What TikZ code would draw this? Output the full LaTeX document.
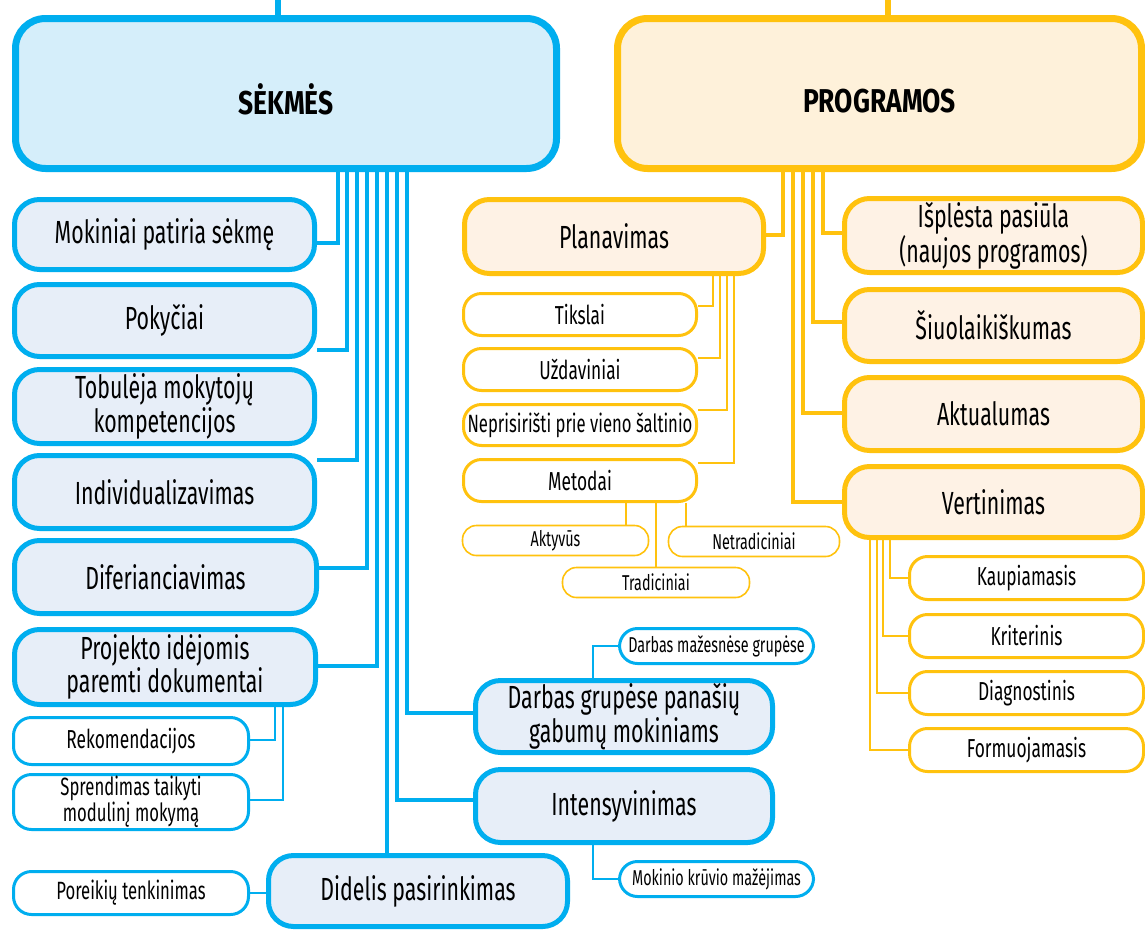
\documentclass[tikz,border=0pt]{standalone}
\usepackage{fontspec}
\setmainfont{Fira Sans}[FakeStretch=0.667]
\newfontfamily\tfont{Fira Sans}[FakeStretch=0.8]
\usetikzlibrary{backgrounds}
\definecolor{cblue}{HTML}{00AEEF}
\definecolor{sekfill}{HTML}{D5EEFA}
\definecolor{bfill}{HTML}{E7EEF8}
\definecolor{cyel}{HTML}{FFC20E}
\definecolor{progfill}{HTML}{FEF1DA}
\definecolor{yfill}{HTML}{FEF2E5}
\newcommand\ftitle{\tfont\fontsize{33}{35}\selectfont\bfseries}
\newcommand\fmid{\fontsize{32}{28.5}\selectfont}
\newcommand\fsub{\fontsize{26}{25}\selectfont}
\newcommand\fsubs{\fontsize{25}{23}\selectfont}
\newcommand\fsmall{\fontsize{21.5}{21}\selectfont}
\begin{document}
\begin{tikzpicture}[x=1pt,y=-1pt,
  tA/.style={line width=7pt, rounded corners=30pt, inner sep=0pt, align=center},
  bB/.style={draw=cblue, fill=bfill, line width=5pt, rounded corners=25pt, inner sep=0pt, align=center, font=\fmid, minimum width=300pt},
  bC/.style={draw=cblue, fill=white, line width=3pt, rounded corners=18pt, inner sep=0pt, align=center, font=\fsub},
  yB/.style={draw=cyel, fill=yfill, line width=5pt, rounded corners=25pt, inner sep=0pt, align=center, font=\fmid},
  yC/.style={draw=cyel, fill=white, line width=3pt, rounded corners=18pt, inner sep=0pt, align=center, font=\fsub},
  yD/.style={draw=cyel, fill=white, line width=1.6pt, rounded corners=14pt, inner sep=0pt, align=center, font=\fsmall},
  btrunk/.style={draw=cblue, line width=4pt},
  bthin/.style={draw=cblue, line width=2.8pt},
  ytrunk/.style={draw=cyel, line width=4.5pt},
  ythin/.style={draw=cyel, line width=2.6pt},
  yhair/.style={draw=cyel, line width=1.5pt}
]
\useasboundingbox (0,0) rectangle (1145,929);
\begin{pgfonlayer}{background}
\fill[white] (0,0) rectangle (1145,929);
\end{pgfonlayer}

% titles
\node[tA, draw=cblue, fill=sekfill, minimum width=541pt, minimum height=150pt,
  label={[font=\ftitle, yshift=-6pt]center:SĖKMĖS}] (sek) at (286,93.5) {};
\node[tA, draw=cyel, fill=progfill, minimum width=524pt, minimum height=150pt,
  label={[font=\ftitle, yshift=-8pt]center:PROGRAMOS}] (prog) at (879.5,93.5) {};

% left column
\node[bB, minimum height=70pt] (mok) at (164.5,234.5) {Mokiniai patiria sėkmę};
\node[bB, minimum height=72pt] (pok) at (164.5,320.5) {Pokyčiai};
\node[bB, minimum height=74pt] (tob) at (164.5,406.5) {Tobulėja mokytojų\\kompetencijos};
\node[bB, minimum height=73pt] (ind) at (164.5,492) {Individualizavimas};
\node[bB, minimum width=302pt, minimum height=73pt] (dif) at (165.5,577) {Diferianciavimas};
\node[bB, minimum width=301pt, minimum height=75pt] (proj) at (165,667) {Projekto idėjomis\\paremti dokumentai};
\node[bC, minimum width=235pt, minimum height=47pt] (rek) at (131,741) {Rekomendacijos};
\node[bC, minimum width=235pt, minimum height=55pt, font=\fsubs] (spr) at (131,802) {Sprendimas taikyti\\modulinį mokymą};
\node[bC, minimum width=235pt, minimum height=43pt, font=\fsubs] (por) at (131,893) {Poreikių tenkinimas};
\node[bB, minimum width=299pt, minimum height=71pt] (did) at (418,891) {Didelis pasirinkimas};
\node[bB, minimum width=297pt, minimum height=72pt] (dgr) at (624,716.5) {Darbas grupėse panašių\\gabumų mokiniams};
\node[bB, minimum width=297pt, minimum height=73pt] (int) at (624,806) {Intensyvinimas};
\node[bC, minimum width=194pt, minimum height=35pt, font=\fsmall] (dmz) at (716.5,646) {Darbas mažesnėse grupėse};
\node[bC, minimum width=194pt, minimum height=35pt, font=\fsmall] (mkr) at (716.5,879) {Mokinio krūvio mažėjimas};

% planavimas
\node[yB, minimum width=299pt, minimum height=74pt] (plan) at (614,236.5) {Planavimas};
\node[yC, minimum width=233pt, minimum height=42pt] (tik) at (580,314.5) {Tikslai};
\node[yC, minimum width=233pt, minimum height=42pt] (uzd) at (580,369.5) {Uždaviniai};
\node[yC, minimum width=233pt, minimum height=41pt, font=\fsubs] (nep) at (580,425) {Neprisirišti prie vieno šaltinio};
\node[yC, minimum width=233pt, minimum height=42pt] (met) at (580,480.5) {Metodai};
\node[yD, minimum width=186pt, minimum height=30pt] (akt) at (555.5,540.5) {Aktyvūs};
\node[yD, minimum width=171pt, minimum height=30pt] (net) at (754,541.5) {Netradiciniai};
\node[yD, minimum width=187pt, minimum height=30pt] (tra) at (656,582.5) {Tradiciniai};

% right column
\node[yB, minimum width=298pt, minimum height=74pt] (isp) at (993.5,235.5) {Išplėsta pasiūla\\(naujos programos)};
\node[yB, minimum width=298pt, minimum height=72pt] (siu) at (993.5,325.5) {Šiuolaikiškumas};
\node[yB, minimum width=298pt, minimum height=73pt] (aktu) at (993.5,414) {Aktualumas};
\node[yB, minimum width=298pt, minimum height=71pt] (ver) at (993.5,502) {Vertinimas};
\node[yC, minimum width=234pt, minimum height=43pt] (kau) at (1026.5,578) {Kaupiamasis};
\node[yC, minimum width=234pt, minimum height=43pt] (kri) at (1026.5,636) {Kriterinis};
\node[yC, minimum width=234pt, minimum height=43pt] (dia) at (1026.5,693) {Diagnostinis};
\node[yC, minimum width=234pt, minimum height=43pt] (for) at (1026.5,750) {Formuojamasis};

\coordinate (tb) at (278,-2);
\coordinate (ty) at (888,-2);

\begin{pgfonlayer}{background}
\draw[draw=cblue, line width=6.5pt] (tb) -- (sek.north -| tb);
\draw[draw=cyel, line width=6.5pt] (ty) -- (prog.north -| ty);
% blue trunk
\draw[btrunk] (sek.south -| 338,0) |- (mok.east |- 0,243);
\draw[btrunk] (sek.south -| 347,0) |- (pok.east |- 0,350);
\draw[btrunk] (sek.south -| 357,0) |- (ind.east |- 0,460);
\draw[btrunk] (sek.south -| 367,0) |- (dif.east |- 0,568);
\draw[btrunk] (sek.south -| 377,0) |- (proj.east |- 0,666);
\draw[btrunk] (sek.south -| 387,0) -- (did.north -| 387,0);
\draw[btrunk] (sek.south -| 397,0) |- (int.west |- 0,800);
\draw[btrunk] (sek.south -| 407,0) |- (dgr.west |- 0,713);
% blue thin
\draw[bthin] (proj.south -| 275,0) |- (rek.east |- 0,740);
\draw[bthin] (proj.south -| 283,0) |- (spr.east |- 0,800);
\draw[bthin] (por.east) -- (did.west |- por.east);
\draw[bthin] (dgr.north -| 593,0) |- (dmz.west);
\draw[bthin] (int.south -| 593,0) |- (mkr.west);
% yellow trunk
\draw[ytrunk] (prog.south -| 783,0) |- (plan.east |- 0,235);
\draw[ytrunk] (prog.south -| 793,0) |- (ver.west);
\draw[ytrunk] (prog.south -| 803,0) |- (aktu.west |- 0,413);
\draw[ytrunk] (prog.south -| 813,0) |- (siu.west |- 0,322);
\draw[ytrunk] (prog.south -| 823,0) |- (isp.west |- 0,233);
% planavimas subs
\draw[ythin] (plan.south -| 713,0) |- (tik.east |- 0,306);
\draw[ythin] (plan.south -| 720,0) |- (uzd.east |- 0,358);
\draw[ythin] (plan.south -| 727,0) |- (nep.east |- 0,410);
\draw[ythin] (plan.south -| 734,0) |- (met.east |- 0,463);
\draw[yhair] (met.south -| 626,0) -- (akt.north -| 626,0);
\draw[yhair] (met.south -| 656,0) -- (tra.north -| 656,0);
\draw[yhair] (met.south -| 686,0) -- (net.north -| 686,0);
% vertinimas subs
\draw[ythin] (ver.south -| 890,0) |- (kau.west);
\draw[ythin] (ver.south -| 883,0) |- (kri.west);
\draw[ythin] (ver.south -| 877,0) |- (dia.west);
\draw[ythin] (ver.south -| 870,0) |- (for.west);
\end{pgfonlayer}
\end{tikzpicture}
\end{document}
